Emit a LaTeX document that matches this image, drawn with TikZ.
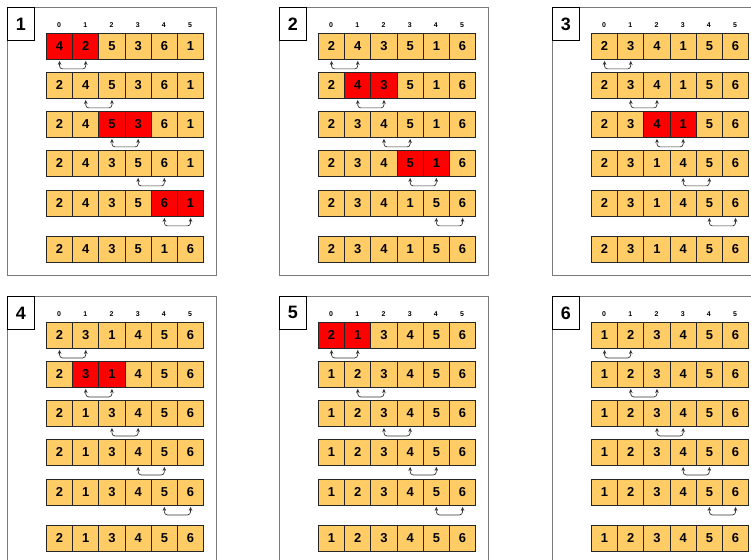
\documentclass[tikz,border=0pt]{standalone}
\usepackage{fontspec}
\setmainfont{Liberation Sans}
\usetikzlibrary{arrows.meta}
\definecolor{cellfill}{HTML}{FFCC66}
\definecolor{cellred}{HTML}{FF0000}
\definecolor{framegray}{HTML}{7A7A7A}
\tikzset{
 cell/.style={draw=black!85, line width=0.9bp, minimum width=26.2bp, minimum height=26bp, inner sep=0pt, anchor=north west, font=\fontsize{13}{13}\selectfont\bfseries},
 idx/.style={font=\fontsize{7}{7}\selectfont\bfseries, inner sep=0pt},
 frame/.style={draw=framegray, line width=0.9bp},
 labelbox/.style={draw=black, line width=0.8bp, fill=white, minimum width=27bp, minimum height=33bp, inner sep=0pt, anchor=north west, font=\fontsize{18}{18}\selectfont\bfseries},
 cmp/.style={draw=black!80, line width=0.7bp, rounded corners=3bp, {Stealth[length=4bp,width=3.6bp]}-{Stealth[length=4bp,width=3.6bp]}},
}
\newcommand\drawpanel[4]{%
 \draw[frame] (#2,#3) rectangle ++(209,268);
 \node[labelbox] (lab#1) at (#2,#3) {#1};
 \foreach \c in {0,...,5}{\node[idx] (idx#1-\c) at ({#2+39+26.2*\c+13.1},{#3+18}) {\c};}
 \foreach \r/\rt/\vals/\red/\arr in {#4}{
   \foreach \v [count=\k from 0] in \vals {
     \pgfmathtruncatemacro\isred{(\k==\red)||(\k==\red+1)}
     \ifnum\isred=1 \def\fc{cellred}\else\def\fc{cellfill}\fi
     \node[cell, fill=\fc] (c#1-\r-\k) at ({#2+39+26.2*\k},{#3+\rt}) {\v};
   }
   \ifnum\arr<9
     \pgfmathtruncatemacro\nx{\arr+1}
     \draw[cmp] ([yshift=-1bp]c#1-\r-\arr.south) -- ++(0,8) -| ([yshift=-1bp]c#1-\r-\nx.south);
   \fi
 }
}
\begin{document}
\begin{tikzpicture}[x=1bp,y=-1bp]
\useasboundingbox (0,0) rectangle (751,560);
\fill[white] (0,0) rectangle (751,560);
\clip (0,0) rectangle (751,560);
\drawpanel{1}{7}{7}{1/26/{4,2,5,3,6,1}/0/0, 2/65/{2,4,5,3,6,1}/9/1, 3/104/{2,4,5,3,6,1}/2/2, 4/143/{2,4,3,5,6,1}/9/3, 5/183/{2,4,3,5,6,1}/4/4, 6/229/{2,4,3,5,1,6}/9/9}
\drawpanel{2}{279}{7}{1/26/{2,4,3,5,1,6}/9/0, 2/65/{2,4,3,5,1,6}/1/1, 3/104/{2,3,4,5,1,6}/9/2, 4/143/{2,3,4,5,1,6}/3/3, 5/183/{2,3,4,1,5,6}/9/4, 6/229/{2,3,4,1,5,6}/9/9}
\drawpanel{3}{552}{7}{1/26/{2,3,4,1,5,6}/9/0, 2/65/{2,3,4,1,5,6}/9/1, 3/104/{2,3,4,1,5,6}/2/2, 4/143/{2,3,1,4,5,6}/9/3, 5/183/{2,3,1,4,5,6}/9/4, 6/229/{2,3,1,4,5,6}/9/9}
\drawpanel{4}{7}{296}{1/26/{2,3,1,4,5,6}/9/0, 2/65/{2,3,1,4,5,6}/1/1, 3/104/{2,1,3,4,5,6}/9/2, 4/143/{2,1,3,4,5,6}/9/3, 5/183/{2,1,3,4,5,6}/9/4, 6/229/{2,1,3,4,5,6}/9/9}
\drawpanel{5}{279}{296}{1/26/{2,1,3,4,5,6}/0/0, 2/65/{1,2,3,4,5,6}/9/1, 3/104/{1,2,3,4,5,6}/9/2, 4/143/{1,2,3,4,5,6}/9/3, 5/183/{1,2,3,4,5,6}/9/4, 6/229/{1,2,3,4,5,6}/9/9}
\drawpanel{6}{552}{296}{1/26/{1,2,3,4,5,6}/9/0, 2/65/{1,2,3,4,5,6}/9/1, 3/104/{1,2,3,4,5,6}/9/2, 4/143/{1,2,3,4,5,6}/9/3, 5/183/{1,2,3,4,5,6}/9/4, 6/229/{1,2,3,4,5,6}/9/9}
\end{tikzpicture}
\end{document}
